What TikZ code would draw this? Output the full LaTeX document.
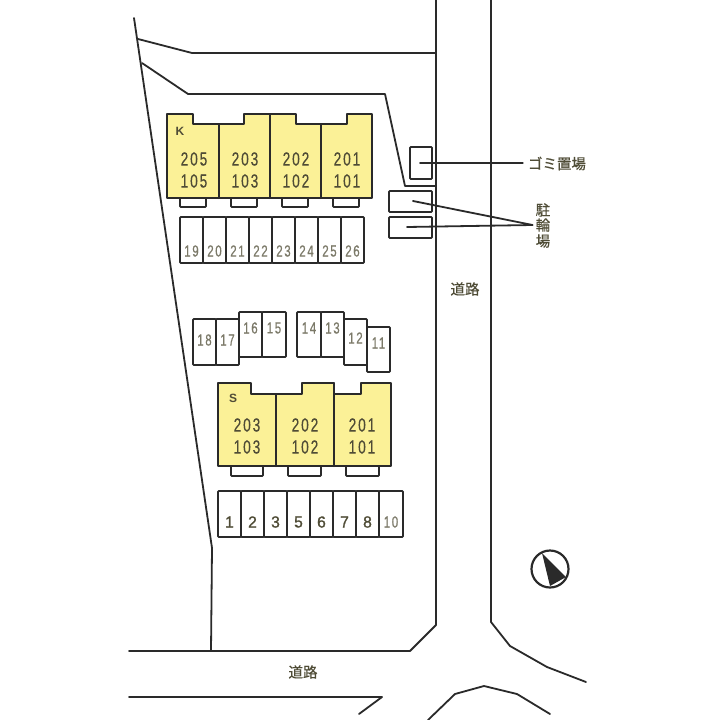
\documentclass[tikz,border=0pt]{standalone}
\usepackage{fontspec}
\setmainfont{Liberation Sans}
\newfontfamily\cjk[FakeBold=0.6]{Noto Sans CJK JP}
\newfontfamily\digs[FakeStretch=0.72,LetterSpace=10,FakeBold=0.4]{Liberation Sans}
\newfontfamily\digw[FakeStretch=0.98,FakeBold=1.2]{Liberation Sans}
\definecolor{ink}{HTML}{2A2A2A}
\definecolor{wall}{HTML}{FBF197}
\definecolor{txt}{HTML}{4F4C36}
\tikzset{
  x=1pt,y=-1pt,
  plotline/.style={draw=ink,line width=1.8pt,line join=round,line cap=round},
  bldg/.style={plotline,fill=wall,line width=2pt},
  cell/.style={draw=ink,line width=1.7pt,fill=white,rounded corners=0.8pt,inner sep=0pt,outer sep=0pt},
  aptno/.style={font=\digs\fontsize{19}{22}\selectfont,text=txt,inner sep=0pt,align=center},
  slot/.style={font=\digs\fontsize{16}{18}\selectfont,text=txt!75,inner sep=0pt},
  slotb/.style={font=\digw\fontsize{16}{18}\selectfont,text=txt,inner sep=0pt},
  jp/.style={font=\cjk\fontsize{14.5}{16}\selectfont,text=txt,inner sep=0pt},
  tag/.style={font=\fontsize{12}{14}\selectfont\bfseries,text=txt,inner sep=0pt},
}
\newcommand{\boxcell}[5]{%
  \pgfmathsetmacro{\bw}{#4-#2}\pgfmathsetmacro{\bh}{#5-#3}%
  \pgfmathsetmacro{\bx}{(#4+#2)/2}\pgfmathsetmacro{\by}{(#5+#3)/2}%
  \node[cell,minimum width=\bw pt,minimum height=\bh pt] (#1) at (\bx,\by) {};}
\begin{document}
\begin{tikzpicture}
\useasboundingbox[fill=white] (0,0) rectangle (720,720);
% site boundary and roads
\draw[plotline] (134,18) -- (212,548) -- (211,651);
\draw[plotline] (138,39) -- (192,53) -- (436,53);
\draw[plotline] (142,63) -- (188,94) -- (385,94) -- (405,186) -- (436,186);
\draw[plotline] (436,0) -- (436,625) -- (410,651) -- (129,651);
\draw[plotline] (491,0) -- (491,622) -- (510,646) -- (547,667) -- (586,682);
\draw[plotline] (129,697) -- (382,697) -- (359,714);
\draw[plotline] (428,720) -- (455,694) -- (484,686) -- (517,694) -- (550,714);
% building K balconies
\foreach \n/\a in {1/180,2/231,3/282,4/333}{
  \pgfmathsetmacro{\ee}{\a+26}
  \boxcell{kb\n}{\a}{196}{\ee}{207}
}
% building K
\draw[bldg] (167,114) -- (193,114) -- (193,124) -- (244,124) -- (244,114) -- (296,114) -- (296,124) -- (347,124) -- (347,114) -- (372,114) -- (372,198) -- (167,198) -- cycle;
\draw[bldg] (219,124) -- (219,198) (270,114) -- (270,198) (321,124) -- (321,198);
\node[tag] (ktag) at (180,131) {K};
\node[aptno] (k1) at (194,170) {205\\[0pt]105};
\node[aptno] (k2) at (245,170) {203\\[0pt]103};
\node[aptno] (k3) at (296,170) {202\\[0pt]102};
\node[aptno] (k4) at (347,170) {201\\[0pt]101};
% parking 19-26
\foreach \t [count=\i from 0] in {19,20,21,22,23,24,25,26}{
  \pgfmathsetmacro{\aa}{180+23*\i}\pgfmathsetmacro{\ee}{\aa+23}\pgfmathsetmacro{\cc}{\aa+11.5}
  \boxcell{p\t}{\aa}{217}{\ee}{263}
  \node[slot] (pt\t) at (\cc,251) {\t};
}
% parking 11-18
\boxcell{p18}{193}{319}{216}{365}\node[slot] (pt18) at (204.5,340) {18};
\boxcell{p17}{216}{319}{239}{365}\node[slot] (pt17) at (227.5,340) {17};
\boxcell{p16}{239}{312}{262}{357}\node[slot] (pt16) at (250.5,328) {16};
\boxcell{p15}{262}{312}{286}{357}\node[slot] (pt15) at (274,328) {15};
\boxcell{p14}{297}{312}{321}{357}\node[slot] (pt14) at (309,328) {14};
\boxcell{p13}{321}{312}{344}{357}\node[slot] (pt13) at (332.5,328) {13};
\boxcell{p12}{344}{319}{367}{365}\node[slot] (pt12) at (355.5,338) {12};
\boxcell{p11}{367}{327}{390}{372}\node[slot] (pt11) at (378.5,343) {11};
% building S balconies
\boxcell{sb1}{231}{464}{263}{476}
\boxcell{sb2}{288}{464}{321}{476}
\boxcell{sb3}{346}{464}{379}{476}
% building S
\draw[bldg] (218,383) -- (251,383) -- (251,394) -- (302,394) -- (302,383) -- (334,383) -- (334,394) -- (361,394) -- (361,383) -- (391,383) -- (391,466) -- (218,466) -- cycle;
\draw[bldg] (276,394) -- (276,466) (334,383) -- (334,466);
\node[tag] (stag) at (233,398) {S};
\node[aptno] (s1) at (247,436) {203\\[0pt]103};
\node[aptno] (s2) at (305,436) {202\\[0pt]102};
\node[aptno] (s3) at (362,436) {201\\[0pt]101};
% parking 1-10
\foreach \t [count=\i from 0] in {1,2,3,5,6,7,8}{
  \pgfmathsetmacro{\aa}{218+23*\i}\pgfmathsetmacro{\ee}{\aa+23}\pgfmathsetmacro{\cc}{\aa+11.5}
  \boxcell{q\t}{\aa}{491}{\ee}{537}
  \node[slotb] (qt\t) at (\cc,522) {\t};
}
\boxcell{q10}{379}{491}{403}{537}\node[slot] (qt10) at (391,522) {10};
% garbage and bicycle areas
\boxcell{gomi}{410}{147}{432}{179}
\boxcell{bike1}{389}{191}{432}{212}
\boxcell{bike2}{389}{217}{432}{238}
\coordinate (gomiin) at (420,163);
\coordinate (bike1in) at (413,201);
\coordinate (bike2in) at (407,227);
\node[jp] (gomilabel) at (557,163.5) {ゴミ置場};
\node[jp] (bikelabel1) at (543,210) {駐};
\node[jp] (bikelabel2) at (543,225) {輪};
\node[jp] (bikelabel3) at (543,241) {場};
\coordinate (gomiend) at ([xshift=-5pt]gomilabel.west);
\coordinate (bikeend) at ([xshift=-3pt]bikelabel2.west);
\draw[plotline] (gomiin) -- (gomiin -| gomiend);
\draw[plotline] (bike1in) -- (bikeend);
\draw[plotline] (bike2in) -- (bikeend);
\node[jp] (road1) at (465,289) {道路};
\node[jp] (road2) at (303,672) {道路};
% north mark
\node[draw=ink,line width=2.2pt,circle,minimum size=37pt,inner sep=0pt] (north) at (550,569) {};
\fill[ink] (542,553) -- (566,577) -- (550,586) -- cycle;
\end{tikzpicture}
\end{document}
